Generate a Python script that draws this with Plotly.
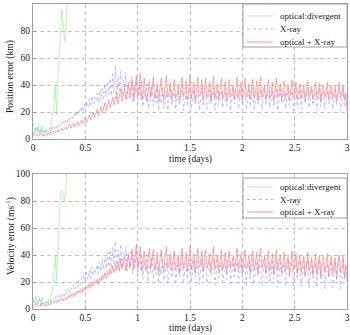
import numpy as np
import plotly.graph_objects as go

# ---------------- data ----------------
dt_days = 0.0125  # sampling step of the series (days)

pos_xray_optical = [
    5, 3, 2.5, 3.5, 2, 3, 4, 2.5, 3, 2, 3.5, 3, 4,
    3, 5, 4, 6, 4.5, 5, 7, 5, 6, 8, 6, 8,
    9, 7, 9, 11, 8, 10, 12, 9, 11, 13, 10, 12,
    14, 11, 13, 16, 12, 15, 18, 14, 17, 20, 16, 19,
    22, 17, 21, 24, 19, 23, 27, 21, 25, 29, 23, 28,
    31, 25, 30, 34, 26, 33, 37, 28, 32, 39, 29, 35,
    41, 30, 36, 44, 28, 38, 47, 31, 36, 49, 29, 34,
    45, 33, 28, 36, 43, 31, 38, 46, 30, 34, 41, 28,
    37, 45, 32, 29, 40, 47, 31, 35, 42, 29, 36, 44,
    30, 33, 41, 27, 38, 46, 31, 34, 43, 29, 37, 48,
    30, 35, 42, 28, 39, 46, 32, 33, 44, 29, 36, 45,
    31, 34, 42, 28, 38, 47, 30, 35, 41, 29, 37, 45,
    30, 33, 43, 28, 36, 44, 31, 34, 40, 29, 38, 46,
    30, 35, 42, 28, 37, 45, 31, 33, 41, 29, 36, 44,
    30, 34, 43, 28, 38, 46, 31, 35, 40, 29, 37, 44,
    30, 33, 42, 28, 36, 45, 31, 34, 41, 29, 38, 43,
    30, 35, 40, 28, 37, 44, 31, 33, 42, 29, 36, 41,
    30, 34, 40, 28, 38, 43, 31, 35, 39, 29, 36, 42,
    30, 33, 41, 28, 37, 40, 31, 34, 42, 29, 36, 40,
    30, 35, 39, 28, 37, 42, 31, 33, 40, 29, 34, 21,
]

pos_xray = [
    12, 8, 5, 9, 6, 4, 8, 5, 7, 4, 6, 5, 7,
    8, 6, 9, 7, 10, 8, 11, 9, 12, 10, 13, 11,
    14, 12, 16, 13, 17, 15, 19, 16, 21, 17, 22, 19,
    24, 20, 26, 21, 28, 23, 30, 24, 32, 26, 31, 28,
    34, 27, 36, 29, 38, 30, 41, 31, 43, 33, 45, 32,
    48, 34, 54, 30, 46, 36, 50, 32, 44, 38, 49, 30,
    42, 35, 46, 28, 40, 33, 45, 26, 38, 31, 43, 24,
    36, 30, 41, 22, 35, 28, 40, 24, 34, 27, 38, 21,
    33, 26, 39, 23, 31, 36, 21, 29, 38, 25, 32, 37,
    22, 30, 36, 26, 33, 39, 21, 28, 35, 24, 31, 38,
    22, 29, 37, 25, 32, 36, 21, 30, 38, 24, 33, 35,
    22, 28, 36, 26, 31, 38, 21, 29, 37, 25, 32, 36,
    23, 30, 35, 24, 33, 37, 21, 28, 38, 26, 31, 36,
    22, 29, 37, 25, 32, 35, 22, 30, 36, 24, 33, 38,
    21, 28, 35, 26, 31, 37, 22, 29, 38, 25, 32, 36,
    23, 30, 36, 24, 33, 38, 21, 28, 37, 26, 31, 35,
    22, 29, 38, 25, 32, 36, 21, 30, 35, 24, 33, 37,
    22, 28, 36, 26, 31, 38, 23, 29, 37, 25, 32, 35,
    21, 30, 38, 24, 33, 36, 22, 28, 35, 26, 31, 37,
    22, 29, 36, 25, 32, 38, 21, 30, 37, 24, 33, 31,
]

pos_optical = [
    5, 3, 8, 4, 11, 3, 6, 10, 2, 5, 7, 3, 6, 4, 12,
    17, 26, 40, 18, 45, 58, 75, 96, 88, 72, 76, 104, 120, 140,
]

vel_xray_optical = [
    3, 2, 4, 2.5, 3, 2, 3.5, 2, 3, 2.5, 3, 2, 4,
    3, 5, 4, 5, 6, 4.5, 7, 5.5, 6, 8, 6, 8,
    9, 7, 10, 8, 11, 9, 12, 10, 13, 11, 14, 12,
    15, 12, 16, 14, 17, 15, 19, 16, 20, 17, 21, 19,
    22, 18, 23, 21, 25, 22, 27, 23, 28, 25, 30, 26,
    32, 27, 33, 29, 35, 28, 37, 30, 34, 38, 28, 36,
    41, 30, 35, 44, 29, 38, 48, 31, 36, 46, 28, 33,
    43, 32, 28, 37, 45, 30, 38, 44, 29, 34, 42, 27,
    36, 44, 31, 28, 39, 46, 30, 35, 41, 28, 36, 43,
    29, 33, 40, 26, 38, 45, 30, 34, 42, 28, 37, 47,
    29, 35, 41, 27, 38, 45, 31, 33, 43, 28, 36, 44,
    30, 34, 41, 27, 37, 46, 29, 35, 40, 28, 37, 44,
    29, 33, 42, 27, 36, 43, 30, 34, 39, 28, 38, 45,
    29, 35, 41, 27, 37, 44, 30, 33, 40, 27, 36, 43,
    29, 34, 42, 26, 38, 45, 30, 35, 39, 27, 37, 43,
    28, 33, 41, 26, 36, 44, 29, 34, 40, 27, 37, 42,
    28, 35, 39, 25, 37, 43, 29, 33, 41, 26, 35, 40,
    27, 33, 39, 24, 36, 42, 28, 34, 38, 25, 35, 41,
    26, 32, 40, 23, 36, 39, 27, 33, 41, 24, 34, 39,
    26, 34, 38, 22, 35, 40, 27, 32, 39, 23, 33, 20,
]

vel_xray = [
    7, 5, 10, 4, 6, 8, 3, 6, 4, 5, 3, 6, 4,
    6, 5, 8, 6, 9, 7, 10, 8, 11, 9, 12, 10,
    13, 11, 15, 12, 16, 14, 18, 15, 20, 16, 21, 18,
    23, 19, 25, 20, 27, 22, 29, 23, 31, 25, 30, 27,
    33, 26, 35, 28, 37, 29, 40, 30, 42, 31, 44, 30,
    46, 32, 50, 28, 44, 34, 48, 30, 42, 36, 46, 28,
    40, 33, 44, 26, 38, 31, 43, 24, 36, 30, 41, 22,
    35, 28, 40, 20, 33, 27, 39, 22, 32, 26, 37, 19,
    31, 25, 38, 21, 30, 35, 19, 28, 37, 23, 31, 36,
    20, 29, 35, 24, 32, 38, 19, 27, 34, 22, 30, 37,
    20, 28, 36, 23, 31, 35, 18, 29, 37, 22, 32, 34,
    19, 27, 35, 24, 30, 37, 18, 28, 36, 23, 31, 35,
    20, 29, 34, 22, 32, 36, 17, 27, 37, 24, 30, 35,
    19, 28, 36, 23, 31, 34, 18, 29, 35, 22, 32, 37,
    18, 27, 34, 24, 30, 36, 17, 28, 37, 23, 31, 35,
    19, 29, 35, 22, 32, 37, 16, 27, 36, 24, 30, 34,
    18, 28, 37, 23, 31, 35, 16, 29, 34, 22, 32, 36,
    17, 27, 35, 24, 30, 37, 15, 28, 36, 23, 31, 34,
    16, 29, 37, 22, 32, 35, 15, 27, 34, 24, 30, 36,
    16, 28, 35, 23, 31, 37, 15, 29, 36, 22, 32, 30,
]

vel_optical = [
    7, 4, 6, 3, 5, 8, 4, 9, 3, 5, 6, 4, 8, 5, 10,
    15, 24, 40, 21, 46, 62, 86, 88, 84, 80, 88, 105, 120, 140,
]

x_ticks = [0, 0.5, 1, 1.5, 2, 2.5, 3]
x_tick_text = ["0", "0.5", "1", "1.5", "2", "2.5", "3"]
y_ticks = [0, 20, 40, 60, 80, 100]

legend_names = ["optical:divergent", "X-ray", "optical + X-ray"]


def times(vals):
    return np.arange(len(vals)) * dt_days


GREEN = "#9ff29f"
BLUE = "#a6a6ff"
RED = "#ff8a8a"
COLORS = [GREEN, BLUE, RED]
DASHES = ["solid", "3px,3px", "solid"]
FONT = "'Liberation Serif', 'Times New Roman', Times, 'DejaVu Serif', serif"
TXT = "#1a1a1a"

W, H = 350, 335
ML, MR, MT, MB = 33, 3, 4, 26
PW, PH = W - ML - MR, H - MT - MB


def px_x(px):
    return (px - ML) / PW


def px_y(py):
    return (H - MB - py) / PH


fig = go.Figure()

panels = [
    ("x", "y", pos_optical, pos_xray, pos_xray_optical),
    ("x2", "y2", vel_optical, vel_xray, vel_xray_optical),
]
for xa, ya, g, b, r in panels:
    for vals, name, col, dash in zip([g, b, r], legend_names, COLORS, DASHES):
        fig.add_trace(go.Scatter(x=times(vals), y=vals, mode="lines", name=name,
                                 line=dict(color=col, width=0.75, dash=dash),
                                 xaxis=xa, yaxis=ya, showlegend=False, hoverinfo="skip"))

axis_common = dict(
    showgrid=True, gridcolor="#c4c4c4", griddash="4px,3px", gridwidth=1,
    showline=True, linecolor="#a0a0a0", linewidth=1, mirror=True,
    zeroline=False, ticks="inside", ticklen=3, tickcolor="#a0a0a0",
    tickfont=dict(family=FONT, size=9.5, color=TXT),
)

top_dom = [px_y(139), px_y(4)]
bot_dom = [px_y(309), px_y(174)]

fig.update_layout(
    width=W, height=H,
    margin=dict(l=ML, r=MR, t=MT, b=MB, autoexpand=False),
    paper_bgcolor="white", plot_bgcolor="white",
    font=dict(family=FONT, size=9.5, color=TXT),
    xaxis=dict(domain=[0, 1], range=[0, 3], tickvals=x_ticks, ticktext=x_tick_text,
               anchor="y", **axis_common),
    yaxis=dict(domain=top_dom, range=[0, 100], tickvals=y_ticks, anchor="x", **axis_common),
    xaxis2=dict(domain=[0, 1], range=[0, 3], tickvals=x_ticks, ticktext=x_tick_text,
                anchor="y2", **axis_common),
    yaxis2=dict(domain=bot_dom, range=[0, 100], tickvals=y_ticks, anchor="x2", **axis_common),
    showlegend=False,
)

ann_font = dict(family=FONT, size=9.5, color=TXT)
fig.add_annotation(text="time (days)", xref="paper", yref="paper", x=0.5, y=px_y(159),
                   yanchor="middle", showarrow=False, font=ann_font)
fig.add_annotation(text="time (days)", xref="paper", yref="paper", x=0.5, y=px_y(328),
                   yanchor="middle", showarrow=False, font=ann_font)
fig.add_annotation(text="Position error (km)", xref="paper", yref="paper",
                   x=px_x(10), xanchor="center", y=px_y(77), yanchor="middle",
                   textangle=-90, showarrow=False, font=ann_font)
fig.add_annotation(text="Velocity error (ms<sup>-1</sup>)", xref="paper", yref="paper",
                   x=px_x(10), xanchor="center", y=px_y(236), yanchor="middle",
                   textangle=-90, showarrow=False, font=ann_font)

# legends drawn as boxes with line samples and labels
legend_boxes = [(243, 347, 4, 47, [16, 29, 42]), (243, 347, 178, 218, [187, 199.5, 212])]
for x0, x1, y0, y1, rows in legend_boxes:
    fig.add_shape(type="rect", xref="paper", yref="paper",
                  x0=px_x(x0), x1=px_x(x1), y0=px_y(y1), y1=px_y(y0),
                  line=dict(color="#a0a0a0", width=1), fillcolor="white", layer="above")
    for ry, name, col, dash in zip(rows, legend_names, COLORS, DASHES):
        fig.add_shape(type="line", xref="paper", yref="paper",
                      x0=px_x(247), x1=px_x(273), y0=px_y(ry), y1=px_y(ry),
                      line=dict(color=col, width=0.9, dash=dash), layer="above")
        fig.add_annotation(text=name, xref="paper", yref="paper", x=px_x(278), y=px_y(ry),
                           xanchor="left", yanchor="middle", showarrow=False,
                           font=dict(family=FONT, size=9, color=TXT))

fig.write_html("out.html", config={"displayModeBar": False},
               post_script="document.body.style.margin='0px';")
